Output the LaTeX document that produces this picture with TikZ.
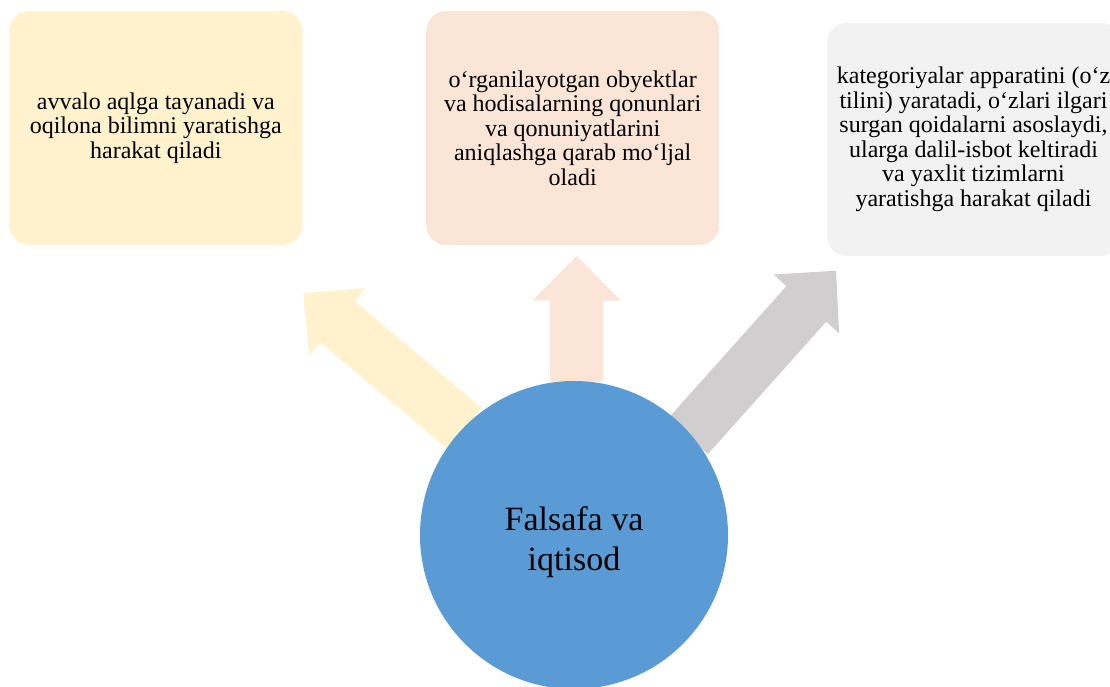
\documentclass[tikz,border=0pt]{standalone}
\usepackage{fontspec}
\setmainfont{Liberation Serif}
\usetikzlibrary{calc}
\definecolor{cyellow}{HTML}{FFF2CC}
\definecolor{corange}{HTML}{FBE5D6}
\definecolor{cgreybox}{HTML}{F2F2F2}
\definecolor{cgreyarrow}{HTML}{D0CECE}
\definecolor{cblue}{HTML}{5B9BD5}
\newcommand{\blockarrowfill}[3]{%
  \coordinate (#2-h) at ($(#3)!44.5pt!(#2)$);
  \fill[#1] ($(#2)!26.7pt!90:(#3)$) -- ($(#2-h)!26.7pt!90:(#3)$)
    -- ($(#2-h)!44pt!90:(#3)$) -- (#3) -- ($(#2-h)!44pt!-90:(#3)$)
    -- ($(#2-h)!26.7pt!-90:(#3)$) -- ($(#2)!26.7pt!-90:(#3)$) -- cycle;
}
\tikzset{
  infobox/.style={rounded corners=20pt, minimum width=293pt, minimum height=234pt,
    inner sep=0pt, align=center, font=\fontsize{24}{24.5}\selectfont},
  hub/.style={circle, fill=cblue, minimum size=308pt, inner sep=0pt},
  hubtext/.style={align=center, font=\fontsize{34}{40}\selectfont, inner sep=0pt}
}
\begin{document}
\begin{tikzpicture}[x=1pt,y=-1pt]
\useasboundingbox (0,0) rectangle (1110,686);
\node[infobox, fill=cyellow] (b1) at (155.8,128) {avvalo aqlga tayanadi va\\oqilona bilimni yaratishga\\harakat qiladi};
\node[infobox, fill=corange] (b2) at (572.7,128) {o‘rganilayotgan obyektlar\\va hodisalarning qonunlari\\va qonuniyatlarini\\aniqlashga qarab mo‘ljal\\oladi};
\node[infobox, fill=cgreybox, minimum height=233.3pt] (b3) at (973.5,139.4) {kategoriyalar apparatini (o‘z\\tilini) yaratadi, o‘zlari ilgari\\surgan qoidalarni asoslaydi,\\ularga dalil-isbot keltiradi\\va yaxlit tizimlarni\\yaratishga harakat qiladi};
\coordinate (las) at (464.7,428.3);
\coordinate (lat) at (303.3,293.3);
\coordinate (mas) at (576.7,381.7);
\coordinate (mat) at (576.7,256);
\coordinate (ras) at (687.9,436.3);
\coordinate (rat) at (836,270.7);
\blockarrowfill{cyellow}{las}{lat}
\blockarrowfill{corange}{mas}{mat}
\blockarrowfill{cgreyarrow}{ras}{rat}
\node[hub] (c) at (574,535) {};
\node[hubtext] (ct) at (574,542) {Falsafa va\\iqtisod};
\end{tikzpicture}
\end{document}
